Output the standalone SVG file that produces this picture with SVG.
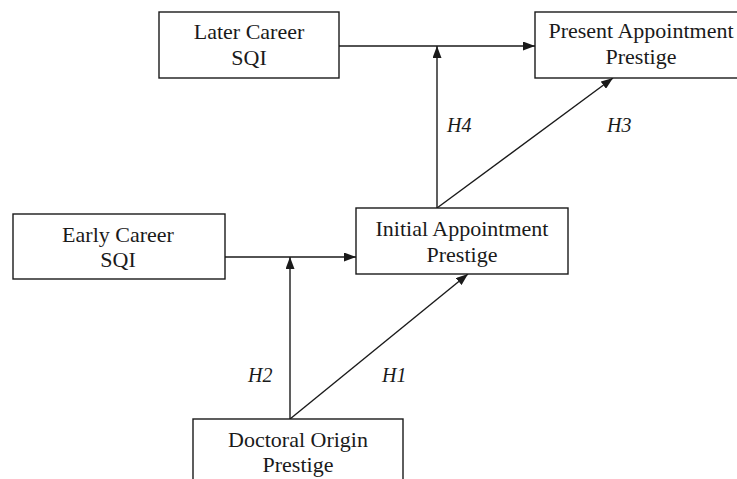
<svg xmlns="http://www.w3.org/2000/svg" width="737" height="479" viewBox="0 0 737 479">
<defs>
<marker id="ah" viewBox="0 0 12 9" refX="12" refY="4.5" markerWidth="12" markerHeight="9" markerUnits="userSpaceOnUse" orient="auto">
<path d="M0,0 L12,4.5 L0,9 Z" fill="#1a1a1a"/>
</marker>
</defs>
<style>
.box{fill:#fff;stroke:#1a1a1a;stroke-width:1.4}
.t{font-family:"Liberation Serif","Times New Roman",serif;font-size:22px;fill:#1a1a1a;text-anchor:middle}
.h{font-family:"Liberation Serif","Times New Roman",serif;font-size:20px;font-style:italic;fill:#1a1a1a}
.c{stroke:#1a1a1a;stroke-width:1.4;fill:none}
</style>
<rect width="737" height="479" fill="#fff"/>
<g id="connectors">
<line class="c" x1="339" y1="46" x2="535" y2="46" marker-end="url(#ah)"/>
<line class="c" x1="437" y1="208" x2="437" y2="46" marker-end="url(#ah)"/>
<line class="c" x1="437" y1="208" x2="613" y2="78" marker-end="url(#ah)"/>
<line class="c" x1="225" y1="257" x2="356" y2="257" marker-end="url(#ah)"/>
<line class="c" x1="290" y1="419" x2="290" y2="257" marker-end="url(#ah)"/>
<line class="c" x1="290" y1="419" x2="468" y2="274" marker-end="url(#ah)"/>
<text class="h" x="447" y="132">H4</text>
<text class="h" x="607" y="132">H3</text>
<text class="h" x="248" y="382">H2</text>
<text class="h" x="382" y="382">H1</text>
</g>
<g id="later-career">
<rect class="box" x="159" y="12" width="180" height="66"/>
<text class="t" x="249" y="39">Later Career</text>
<text class="t" x="249" y="65">SQI</text>
</g>
<g id="present-appointment">
<rect class="box" x="535" y="12" width="210" height="66"/>
<text class="t" x="641" y="38">Present Appointment</text>
<text class="t" x="641" y="64">Prestige</text>
</g>
<g id="early-career">
<rect class="box" x="13" y="214" width="212" height="65"/>
<text class="t" x="118" y="242">Early Career</text>
<text class="t" x="118" y="267">SQI</text>
</g>
<g id="initial-appointment">
<rect class="box" x="356" y="208" width="212" height="66"/>
<text class="t" x="462" y="236">Initial Appointment</text>
<text class="t" x="462" y="262">Prestige</text>
</g>
<g id="doctoral-origin">
<rect class="box" x="193" y="419" width="210" height="70"/>
<text class="t" x="298" y="447">Doctoral Origin</text>
<text class="t" x="298" y="472">Prestige</text>
</g>
</svg>
